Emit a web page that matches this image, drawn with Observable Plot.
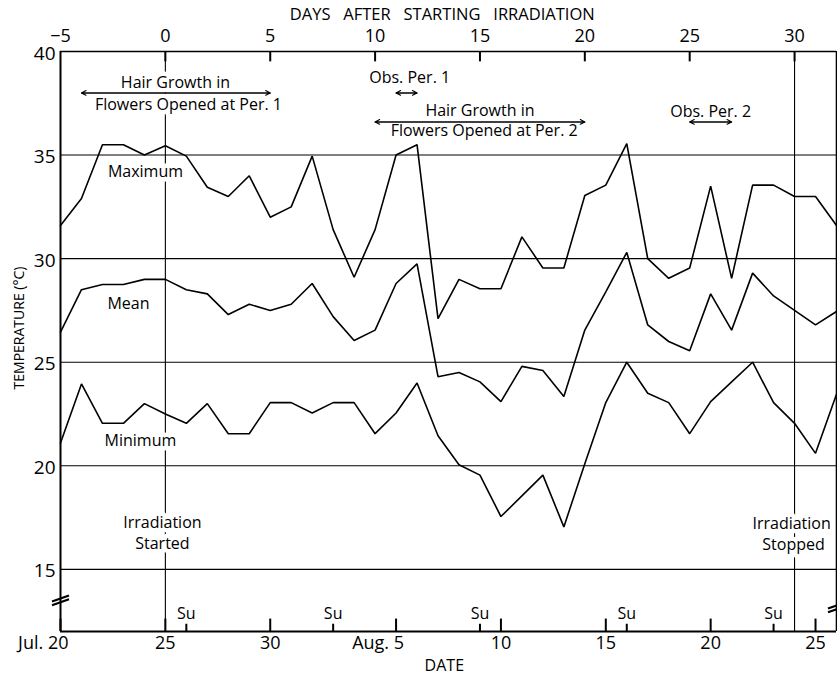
<!DOCTYPE html>
<html><head><meta charset="utf-8">
<script src="https://cdn.jsdelivr.net/npm/d3@7"></script>
<script src="https://cdn.jsdelivr.net/npm/@observablehq/plot@0.6"></script>
<style>body{margin:0;background:#fff}</style>
</head><body><div id="chart"></div>
<script>
// Days after starting irradiation (day 0 = Jul. 25)
const days = [-5,-4,-3,-2,-1,0,1,2,3,4,5,6,7,8,9,10,11,12,13,14,15,16,17,18,19,20,21,22,23,24,25,26,27,28,29,30,31,32];
const maximum = [31.6,32.9,35.5,35.5,35.0,35.45,34.95,33.45,33.0,34.0,32.0,32.5,34.95,31.4,29.1,31.4,35.0,35.5,27.1,29.0,28.55,28.55,31.05,29.55,29.55,33.05,33.55,35.55,30.0,29.05,29.55,33.5,29.05,33.55,33.55,33.0,33.0,31.6];
const mean    = [26.45,28.5,28.75,28.75,29.0,29.0,28.5,28.3,27.3,27.8,27.5,27.8,28.8,27.2,26.05,26.55,28.8,29.75,24.3,24.5,24.05,23.1,24.8,24.6,23.35,26.55,28.4,30.3,26.8,26.0,25.55,28.3,26.55,29.3,28.2,27.5,26.8,27.45];
const minimum = [21.1,23.95,22.05,22.05,23.0,22.5,22.05,23.0,21.55,21.55,23.05,23.05,22.55,23.05,23.05,21.55,22.55,24.0,21.45,20.05,19.55,17.55,18.55,19.55,17.05,20.1,23.05,25.0,23.5,23.05,21.55,23.1,24.05,25.0,23.05,22.05,20.6,23.45];

const topTicks = [-5,0,5,10,15,20,25,30];
const topTickLabels = ["\u22125","0","5","10","15","20","25","30"];
const yTicks = [15,20,25,30,35,40];
const gridTemps = [15,20,25,30,35];
const monthTicks = [-5,11];
const monthTickLabels = ["Jul. 20","Aug. 5"];
const dayTicks = [0,5,16,21,26,31];
const dayTickLabels = ["25","30","10","15","20","25"];
const sundays = [1,8,15,22,29];
const events = [0,30];

const seriesNames = ["Maximum","Mean","Minimum"];
const seriesValues = [maximum, mean, minimum];
const table = seriesNames.flatMap((s,i) => days.map((d,j) => ({series:s, day:d, temp:seriesValues[i][j]})));

const periods = [
  {x1:-4, x2:5, y:38.0},
  {x1:11, x2:12, y:38.0},
  {x1:10, x2:20, y:36.6},
  {x1:25, x2:27, y:36.6}
];
const labels = [
  {x:0.48, y:38.5, t:"Hair Growth in"},
  {x:1.1, y:37.44, t:"Flowers Opened at Per. 1"},
  {x:11.65, y:38.74, t:"Obs. Per. 1"},
  {x:15.0, y:37.12, t:"Hair Growth in"},
  {x:15.2, y:36.15, t:"Flowers Opened at Per. 2"},
  {x:26.0, y:37.1, t:"Obs. Per. 2"},
  {x:-0.95, y:34.2, t:"Maximum"},
  {x:-1.76, y:27.81, t:"Mean"},
  {x:-1.19, y:21.19, t:"Minimum"},
  {x:-0.14, y:17.22, t:"Irradiation"},
  {x:-0.14, y:16.24, t:"Started"},
  {x:29.86, y:17.2, t:"Irradiation"},
  {x:29.95, y:16.2, t:"Stopped"}
];
const axisBreaks = [{x:-5, y:13.5}, {x:32, y:13.16}];

// two short parallel slanted strokes marking the broken axis
const breakSymbol = {
  draw(ctx, size) {
    const r = Math.sqrt(size / Math.PI);
    for (const g of [-0.22 * r, 0.22 * r]) {
      ctx.moveTo(-r, 0.35 * r + g);
      ctx.lineTo(r, -0.35 * r + g);
    }
  }
};

const font = "Open Sans";
const chart = Plot.plot({
  width: 837, height: 675,
  marginLeft: 60, marginRight: 1, marginTop: 51, marginBottom: 44,
  x: {domain: [-5, 32], axis: null},
  y: {domain: [12, 40], axis: null},
  style: {fontFamily: font, fontSize: "16px", color: "black", background: "white"},
  marks: [
    Plot.ruleY(gridTemps, {stroke: "black", strokeWidth: 1.1}),
    Plot.ruleY([40], {stroke: "black", strokeWidth: 1.6}),
    Plot.ruleX([32], {stroke: "black", strokeWidth: 1.6}),
    Plot.ruleX(events, {stroke: "black", strokeWidth: 1.1}),
    Plot.line(table, {x: "day", y: "temp", z: "series", stroke: "black", strokeWidth: 1.6, strokeLinejoin: "miter"}),
    Plot.text(labels, {x: "x", y: "y", text: "t", fontSize: 16, fill: "black", stroke: "white", strokeWidth: 9}),
    Plot.arrow(periods, {x1: "x1", x2: "x2", y1: "y", y2: "y", stroke: "black", strokeWidth: 1.1, headLength: 7, headAngle: 55}),
    Plot.arrow(periods, {x1: "x2", x2: "x1", y1: "y", y2: "y", stroke: "black", strokeWidth: 1.1, headLength: 7, headAngle: 55}),
    Plot.ruleY([12], {stroke: "black", strokeWidth: 2}),
    Plot.ruleX([-5], {stroke: "black", strokeWidth: 2}),
    Plot.ruleX(topTicks.slice(1), {x: d => d, y1: 40, y2: 39.5, stroke: "black", strokeWidth: 2}),
    Plot.ruleX(monthTicks.concat(dayTicks), {x: d => d, y1: 12, y2: 12.6, stroke: "black", strokeWidth: 2}),
    Plot.ruleX(sundays, {x: d => d, y1: 12, y2: 12.35, stroke: "black", strokeWidth: 2}),
    Plot.text(sundays, {x: d => d, y: 12, dy: -18, text: () => "Su", fontSize: 16}),
    Plot.text(topTicks, {x: d => d, y: 40, dy: -15, text: (d, i) => topTickLabels[i], fontSize: 18}),
    Plot.text(["DAYS\u00a0\u00a0\u00a0AFTER\u00a0\u00a0\u00a0STARTING\u00a0\u00a0\u00a0IRRADIATION"], {x: 13.2, y: 40, dy: -37, fontSize: 16.5}),
    Plot.text(yTicks, {x: -5, y: d => d, dx: -5, dy: 2, textAnchor: "end", text: d => String(d), fontSize: 19}),
    Plot.text(["TEMPERATURE (\u00b0C)"], {x: -5, y: 26.65, dx: -41, rotate: -90, fontSize: 14}),
    Plot.text(monthTicks, {x: d => d, y: 12, dy: 12, textAnchor: "end", dx: 8, text: (d, i) => monthTickLabels[i], fontSize: 18}),
    Plot.text(dayTicks, {x: d => d, y: 12, dy: 12, text: (d, i) => dayTickLabels[i], fontSize: 18}),
    Plot.text(["DATE"], {x: 13.3, y: 12, dy: 34, fontSize: 16}),
    Plot.dot(axisBreaks, {x: "x", y: "y", r: 8.5, symbol: breakSymbol, fill: "none", stroke: "black", strokeWidth: 2.2})
  ]
});
document.getElementById("chart").append(chart);
</script>
</body></html>
